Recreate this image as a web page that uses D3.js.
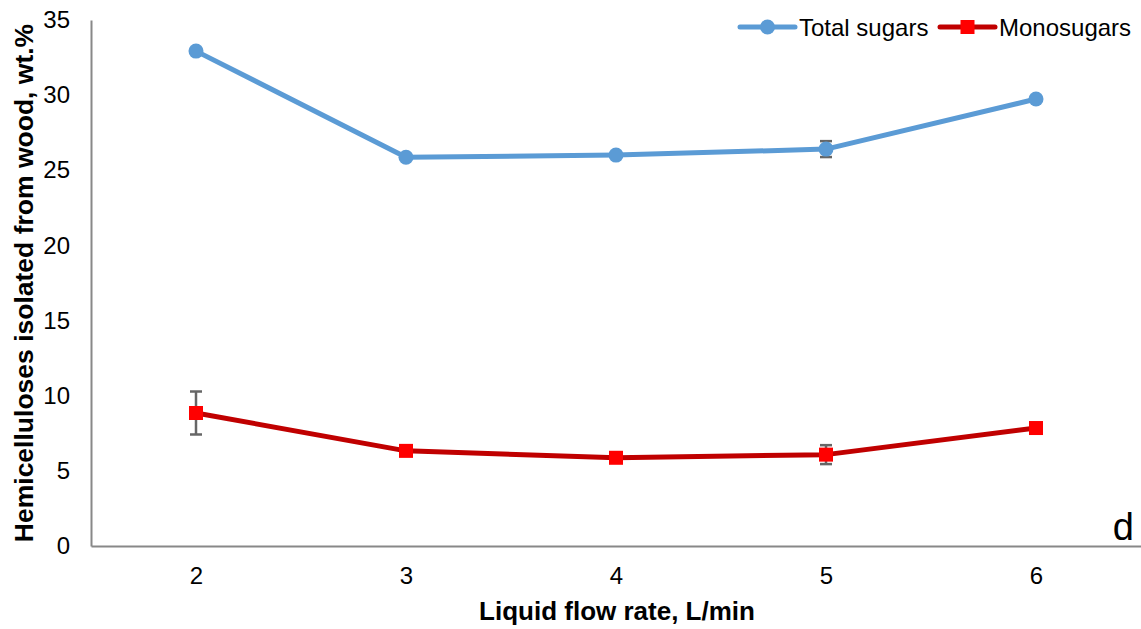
<!DOCTYPE html>
<html><head><meta charset="utf-8">
<script src="https://cdn.jsdelivr.net/npm/d3@7"></script>
<style>body{margin:0;background:#fff}svg{display:block;font-family:"Liberation Sans",Arial,sans-serif}</style>
</head><body><svg id="c" width="1141" height="629"></svg>
<script>
const categories = ["2","3","4","5","6"];
const totalSugars = [32.93, 25.87, 26.01, 26.41, 29.74];
const totalErr = [0.15, 0.1, 0.1, 0.53, 0.1];
const monoSugars = [8.85, 6.33, 5.87, 6.08, 7.85];
const monoErr = [1.43, 0.1, 0.1, 0.63, 0.1];
const yTicks = [0,5,10,15,20,25,30,35];
const seriesNames = ["Total sugars","Monosugars"];

const svg = d3.select("#c");
const L=91, R=1141, T=20, B=546;
const x = d3.scalePoint().domain(categories).range([L,R]).padding(0.5);
const y = d3.scaleLinear().domain([0,35]).range([B,T]);

svg.append("g").attr("transform",`translate(${L},0)`)
  .call(d3.axisLeft(y).tickValues(yTicks).tickSize(0).tickPadding(21))
  .call(g=>{g.select(".domain").attr("stroke","#888").attr("stroke-width",2);
    g.selectAll("text").attr("font-size",24).attr("fill","#000").attr("font-family","Liberation Sans, Arial, sans-serif");});
svg.append("g").attr("transform",`translate(0,${B})`)
  .call(d3.axisBottom(x).tickSize(0).tickPadding(21))
  .call(g=>{g.select(".domain").attr("stroke","#888").attr("stroke-width",2);
    g.selectAll("text").attr("font-size",24).attr("fill","#000").attr("font-family","Liberation Sans, Arial, sans-serif");});

const series = [
  {vals: totalSugars, err: totalErr, line:"#5b9bd5", mark:"#5b9bd5", shape:"circle"},
  {vals: monoSugars, err: monoErr, line:"#c00000", mark:"#ff0000", shape:"square"}
];
const line = d3.line().x((d,i)=>x(categories[i])).y(d=>y(d));
series.forEach(s=>{
  svg.append("path").datum(s.vals).attr("d",line).attr("fill","none")
    .attr("stroke",s.line).attr("stroke-width",5).attr("stroke-linejoin","round").attr("stroke-linecap","round");
  const eb = svg.append("g").attr("stroke","#666").attr("stroke-width",2.5);
  s.vals.forEach((v,i)=>{
    const cx=x(categories[i]), y1=y(v+s.err[i]), y2=y(v-s.err[i]);
    eb.append("line").attr("x1",cx).attr("x2",cx).attr("y1",y1).attr("y2",y2);
    eb.append("line").attr("x1",cx-6).attr("x2",cx+6).attr("y1",y1).attr("y2",y1);
    eb.append("line").attr("x1",cx-6).attr("x2",cx+6).attr("y1",y2).attr("y2",y2);
  });
  s.vals.forEach((v,i)=>{
    const cx=x(categories[i]), cy=y(v);
    if(s.shape==="circle") svg.append("circle").attr("cx",cx).attr("cy",cy).attr("r",7.5).attr("fill",s.mark);
    else svg.append("rect").attr("x",cx-7).attr("y",cy-7).attr("width",14).attr("height",14).attr("fill",s.mark);
  });
});

// legend
const lg = svg.append("g");
[[740,0],[940,1]].forEach(([lx,k])=>{
  const s=series[k];
  lg.append("line").attr("x1",lx).attr("x2",lx+55).attr("y1",27).attr("y2",27).attr("stroke",s.line).attr("stroke-width",5).attr("stroke-linecap","round");
  if(s.shape==="circle") lg.append("circle").attr("cx",lx+27.5).attr("cy",27).attr("r",7.5).attr("fill",s.mark);
  else lg.append("rect").attr("x",lx+20.5).attr("y",20).attr("width",14).attr("height",14).attr("fill",s.mark);
  lg.append("text").attr("x",lx+59).attr("y",36).attr("font-size",24).text(seriesNames[k]);
});

svg.append("text").attr("x",617).attr("y",620).attr("text-anchor","middle")
  .attr("font-size",26).attr("font-weight","bold").text("Liquid flow rate, L/min");
svg.append("text").attr("transform",`translate(33,283) rotate(-90)`).attr("text-anchor","middle")
  .attr("font-size",26.5).attr("font-weight","bold").text("Hemicelluloses isolated from wood, wt.%");
svg.append("text").attr("x",1134).attr("y",540).attr("text-anchor","end").attr("font-size",38).text("d");
</script></body></html>
